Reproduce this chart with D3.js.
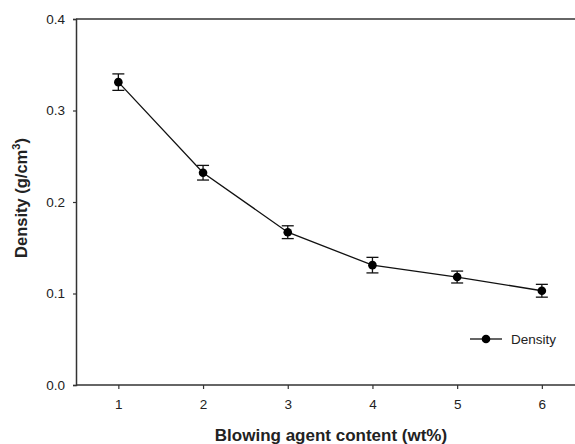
<!DOCTYPE html>
<html>
<head>
<meta charset="utf-8">
<script src="https://cdn.jsdelivr.net/npm/d3@7"></script>
<style>
  body { margin: 0; background: #fff; }
  svg { display: block; font-family: Arial, "Liberation Sans", sans-serif; }
</style>
</head>
<body>
<div id="chart"></div>
<script>
'use strict';

const contents = [1, 2, 3, 4, 5, 6];
const density = [0.331, 0.232, 0.167, 0.131, 0.118, 0.103];
const densityErr = [0.009, 0.008, 0.007, 0.0085, 0.0065, 0.007];
const yTicks = [0.0, 0.1, 0.2, 0.3, 0.4];

const width = 575,
    height = 444,
    plotLeft = 76,
    plotTop = 19,
    plotBottom = 385;

const svg = d3.select('#chart').append('svg')
    .attr('width', width)
    .attr('height', height);

const x = d3.scaleLinear()
    .domain([0.5, 6.5])
    .range([plotLeft, plotLeft + 6 * 84.7]);

const y = d3.scaleLinear()
    .domain([0, 0.4])
    .range([plotBottom, plotTop]);

const axisColor = '#333';

// frame: top border only (right side is cut off)
svg.append('line')
    .attr('x1', plotLeft).attr('x2', width)
    .attr('y1', y(0.4)).attr('y2', y(0.4))
    .attr('stroke', axisColor).attr('stroke-width', 1.5);

const xAxis = svg.append('g')
    .attr('transform', 'translate(0,' + plotBottom + ')')
    .call(d3.axisBottom(x).tickValues(contents).tickSize(4).tickPadding(10).tickFormat(d3.format('d')));

const yAxis = svg.append('g')
    .attr('transform', 'translate(' + plotLeft + ',0)')
    .call(d3.axisLeft(y).tickValues(yTicks).tickSize(3).tickPadding(8).tickFormat(d3.format('.1f')));

[xAxis, yAxis].forEach((g) => {
    g.select('.domain').attr('stroke', axisColor).attr('stroke-width', 1.5);
    g.selectAll('.tick line').attr('stroke', axisColor).attr('stroke-width', 1.2);
    g.selectAll('.tick text')
        .attr('fill', '#222')
        .style('font-size', '13.5px')
        .style('font-family', 'Arial, "Liberation Sans", sans-serif');
});
xAxis.select('.domain').attr('d', 'M' + plotLeft + ',0H' + width);

const pts = contents.map((c, i) => ({x: c, y: density[i], e: densityErr[i]}));

const line = d3.line()
    .x((d) => x(d.x))
    .y((d) => y(d.y));

svg.append('path')
    .datum(pts)
    .attr('fill', 'none')
    .attr('stroke', '#111')
    .attr('stroke-width', 1.3)
    .attr('d', line);

// error bars
const eb = svg.append('g')
    .attr('stroke', '#111')
    .attr('stroke-width', 1.3);

pts.forEach((d) => {
    const cx = x(d.x);
    eb.append('line')
        .attr('x1', cx).attr('x2', cx)
        .attr('y1', y(d.y - d.e)).attr('y2', y(d.y + d.e));
    [d.y - d.e, d.y + d.e].forEach((v) => {
        eb.append('line')
            .attr('x1', cx - 6).attr('x2', cx + 6)
            .attr('y1', y(v)).attr('y2', y(v));
    });
});

svg.append('g').selectAll('circle')
    .data(pts)
    .enter().append('circle')
    .attr('cx', (d) => x(d.x))
    .attr('cy', (d) => y(d.y))
    .attr('r', 4.3)
    .attr('fill', '#000');

// legend
const lg = svg.append('g').attr('transform', 'translate(470,339)');
lg.append('line')
    .attr('x1', 0).attr('x2', 32)
    .attr('stroke', '#111').attr('stroke-width', 1.3);
lg.append('circle')
    .attr('cx', 16).attr('r', 4.3).attr('fill', '#000');
lg.append('text')
    .attr('x', 41)
    .attr('dy', '0.35em')
    .style('font-size', '13.5px')
    .attr('fill', '#222')
    .text('Density');

// axis titles
svg.append('text')
    .attr('x', 331)
    .attr('y', 441)
    .attr('text-anchor', 'middle')
    .style('font-size', '17px')
    .style('font-weight', 'bold')
    .attr('fill', '#222')
    .text('Blowing agent content (wt%)');

const yt = svg.append('text')
    .attr('transform', 'translate(27,198) rotate(-90)')
    .attr('text-anchor', 'middle')
    .style('font-size', '16.5px')
    .style('font-weight', 'bold')
    .attr('fill', '#222');
yt.append('tspan').text('Density (g/cm');
yt.append('tspan').attr('dy', -7).style('font-size', '11px').text('3');
yt.append('tspan').attr('dy', 7).text(')');
</script>
</body>
</html>
